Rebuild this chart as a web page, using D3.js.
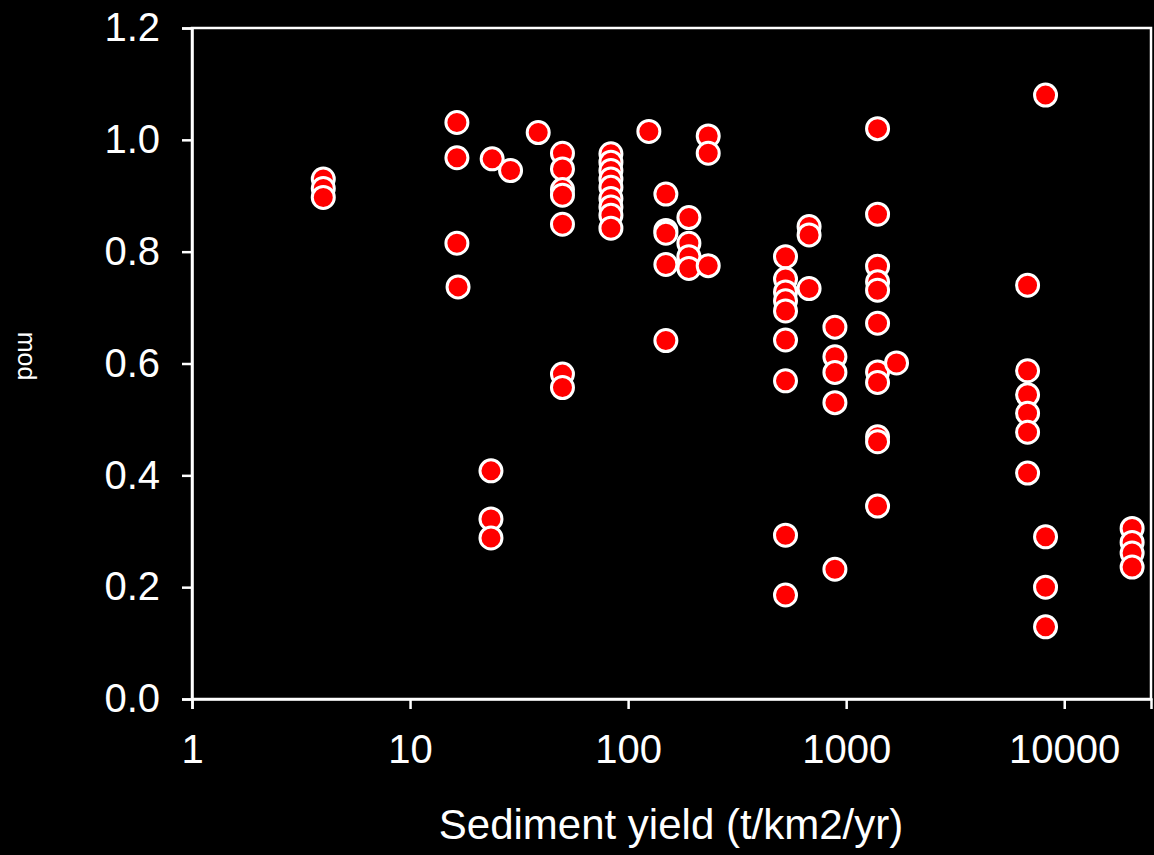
<!DOCTYPE html>
<html>
<head>
<meta charset="utf-8">
<script src="https://cdn.jsdelivr.net/npm/d3@7"></script>
<style>
  html, body { margin: 0; padding: 0; background: #000; }
  svg { display: block; }
  text { font-family: "Liberation Sans", Arial, sans-serif; fill: #fff; }
</style>
</head>
<body>
<div id="chart"></div>
<script>
// sediment yield of each site (t/km2/yr)
const sedimentYield = [4, 16.4, 16.6, 23.5, 23.8, 28.9, 38.7, 50, 83.4, 124.5, 149, 190, 233,
  527, 676, 888, 1393, 1702, 6790, 8210, 20480];

// mod values measured at each site, same order as sedimentYield
const modValues = [
  [0.930, 0.913, 0.897],
  [1.031, 0.968, 0.815],
  [0.737],
  [0.408, 0.322, 0.288],
  [0.966],
  [0.945],
  [1.013],
  [0.976, 0.948, 0.911, 0.901, 0.849, 0.581, 0.557],
  [0.975, 0.960, 0.945, 0.930, 0.915, 0.895, 0.880, 0.865, 0.842],
  [1.015],
  [0.903, 0.838, 0.833, 0.777, 0.641],
  [0.861, 0.815, 0.791, 0.770],
  [1.007, 0.976, 0.775],
  [0.791, 0.751, 0.728, 0.712, 0.694, 0.642, 0.569, 0.293, 0.186],
  [0.845, 0.830, 0.734],
  [0.665, 0.612, 0.584, 0.530, 0.232],
  [1.020, 0.867, 0.774, 0.746, 0.731, 0.672, 0.585, 0.566, 0.469, 0.460, 0.345],
  [0.601],
  [0.740, 0.587, 0.544, 0.511, 0.477, 0.404],
  [1.080, 0.290, 0.200, 0.129],
  [0.305, 0.280, 0.261, 0.236]
];

const xTicks = [1, 10, 100, 1000, 10000];
const yTicks = [0, 0.2, 0.4, 0.6, 0.8, 1.0, 1.2];

const xTitle = 'Sediment yield (t/km2/yr)';
const yTitle = 'mod';

(function () {
  const W = 1154, H = 855;
  const margin = { top: 28, right: 3, bottom: 156, left: 192 };
  const width = W - margin.left - margin.right;
  const height = H - margin.top - margin.bottom;

  // flatten into points
  let points = [];
  sedimentYield.forEach((x, i) => {
    modValues[i].forEach(y => points.push({ x, y }));
  });

  const x = d3.scaleLog().domain([1, 25000]).range([0, width]);
  const y = d3.scaleLinear().domain([0, 1.2]).range([height, 0]);

  const svg = d3.select('#chart').append('svg')
    .attr('width', W)
    .attr('height', H)
    .style('background', '#000');

  const g = svg.append('g')
    .attr('transform', 'translate(' + margin.left + ',' + margin.top + ')');

  // frame
  g.append('rect')
    .attr('x', 0).attr('y', 0)
    .attr('width', width).attr('height', height)
    .attr('fill', 'none')
    .attr('stroke', '#fff')
    .attr('stroke-width', 2.5);

  const xAxis = g.append('g')
    .attr('transform', 'translate(0,' + height + ')')
    .call(d3.axisBottom(x).tickValues(xTicks).tickFormat(d3.format('d')).tickSize(10).tickPadding(26));

  const yAxis = g.append('g')
    .call(d3.axisLeft(y).tickValues(yTicks).tickFormat(d3.format('.1f')).tickSize(10).tickPadding(22));

  [xAxis, yAxis].forEach(a => {
    a.select('.domain').attr('stroke', '#fff').attr('stroke-width', 2.5);
    a.selectAll('.tick line').attr('stroke', '#fff').attr('stroke-width', 2.5);
    a.selectAll('.tick text')
      .attr('fill', '#fff')
      .style('font-size', '40px')
      .style('font-family', '"Liberation Sans", Arial, sans-serif');
  });

  // points
  g.selectAll('.dot')
    .data(points)
    .enter()
    .append('circle')
    .attr('class', 'dot')
    .attr('cx', d => x(d.x))
    .attr('cy', d => y(d.y))
    .attr('r', 11)
    .attr('fill', '#ff0000')
    .attr('stroke', '#fff')
    .attr('stroke-width', 3);

  // axis titles
  svg.append('text')
    .attr('x', 671)
    .attr('y', 839)
    .attr('text-anchor', 'middle')
    .style('font-size', '42px')
    .text(xTitle);

  svg.append('text')
    .attr('transform', 'translate(18,356) rotate(90)')
    .attr('text-anchor', 'middle')
    .style('font-size', '25px')
    .text(yTitle);
})();
</script>
</body>
</html>
